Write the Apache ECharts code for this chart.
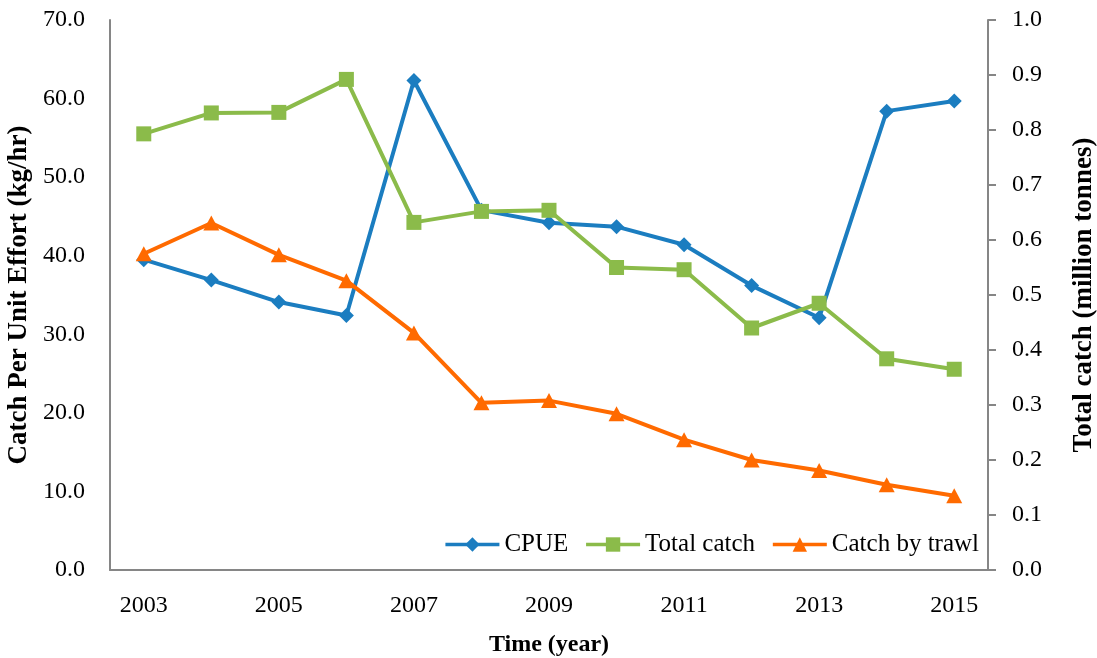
<!DOCTYPE html>
<html>
<head>
<meta charset="utf-8">
<script src="https://cdn.jsdelivr.net/npm/echarts@6/dist/echarts.min.js"></script>
<style>html,body{margin:0;padding:0;background:#fff;overflow:hidden}#c{width:1097px;height:658px}</style>
</head>
<body>
<div id="c"></div>
<script>
const years = ['2003','2004','2005','2006','2007','2008','2009','2010','2011','2012','2013','2014','2015'];
const cpue = [39.5, 36.9, 34.1, 32.4, 62.3, 45.8, 44.2, 43.7, 41.4, 36.2, 32.1, 58.4, 59.7];
const totalCatch = [0.793, 0.831, 0.832, 0.892, 0.632, 0.652, 0.654, 0.550, 0.546, 0.440, 0.485, 0.384, 0.365];
const trawlCatch = [0.575, 0.631, 0.573, 0.526, 0.431, 0.304, 0.308, 0.284, 0.237, 0.200, 0.181, 0.155, 0.135];
const leftTicks = {min: 0, max: 70, interval: 10};
const rightTicks = {min: 0, max: 1.0, interval: 0.1};

const FONT = 'Liberation Serif';
const axisGray = '#868686';
const titleStyle = {fontWeight: 'bold', fontSize: 24, color: '#000', fontFamily: FONT};
const yTitleStyle = {fontWeight: 'bold', fontSize: 27, color: '#000', fontFamily: FONT};
const chart = echarts.init(document.getElementById('c'));
chart.setOption({
  animation: false,
  textStyle: {fontFamily: FONT},
  grid: {left: 110, right: 109, top: 20, bottom: 88, containLabel: false, outerBoundsMode: 'none'},
  legend: {
    right: 118, top: 532, padding: 0, itemGap: 16, itemWidth: 54, itemHeight: 18,
    textStyle: {fontFamily: FONT, fontSize: 25, color: '#000'},
    lineStyle: {width: 3.5},
    data: ['CPUE', 'Total catch', 'Catch by trawl']
  },
  xAxis: {
    type: 'category', data: years, boundaryGap: true,
    axisLine: {lineStyle: {color: axisGray, width: 2}},
    axisTick: {show: false},
    axisLabel: {interval: 1, color: '#000', fontSize: 24, fontFamily: FONT, margin: 24},
    name: 'Time (year)', nameLocation: 'middle', nameGap: 63,
    nameTextStyle: titleStyle
  },
  yAxis: [{
    type: 'value', min: leftTicks.min, max: leftTicks.max, interval: leftTicks.interval,
    axisLine: {show: true, lineStyle: {color: axisGray, width: 2}},
    axisTick: {show: false},
    splitLine: {show: false},
    axisLabel: {formatter: v => v.toFixed(1), color: '#000', fontSize: 24, fontFamily: FONT, margin: 25},
    name: 'Catch Per Unit Effort (kg/hr)', nameLocation: 'middle', nameGap: 72, nameRotate: 90,
    nameTextStyle: yTitleStyle
  }, {
    type: 'value', position: 'right', min: rightTicks.min, max: rightTicks.max, interval: rightTicks.interval,
    axisLine: {show: true, lineStyle: {color: axisGray, width: 2}},
    axisTick: {show: true, length: 8, lineStyle: {color: axisGray, width: 2}},
    splitLine: {show: false},
    axisLabel: {formatter: v => v.toFixed(1), color: '#000', fontSize: 24, fontFamily: FONT, margin: 24},
    name: 'Total catch (million tonnes)', nameLocation: 'middle', nameGap: 83, nameRotate: 90,
    nameTextStyle: yTitleStyle
  }],
  series: [{
    name: 'CPUE', type: 'line', yAxisIndex: 0, data: cpue,
    symbol: 'diamond', symbolSize: 15, showAllSymbol: true,
    lineStyle: {width: 4, color: '#1B7DC0'}, itemStyle: {color: '#1B7DC0'}
  }, {
    name: 'Total catch', type: 'line', yAxisIndex: 1, data: totalCatch,
    symbol: 'rect', symbolSize: 15, showAllSymbol: true,
    lineStyle: {width: 4, color: '#8BBB4A'}, itemStyle: {color: '#8BBB4A'}
  }, {
    name: 'Catch by trawl', type: 'line', yAxisIndex: 1, data: trawlCatch,
    symbol: 'triangle', symbolSize: [16, 15], showAllSymbol: true,
    lineStyle: {width: 4, color: '#FF6A00'}, itemStyle: {color: '#FF6A00'}
  }]
});
</script>
</body>
</html>
